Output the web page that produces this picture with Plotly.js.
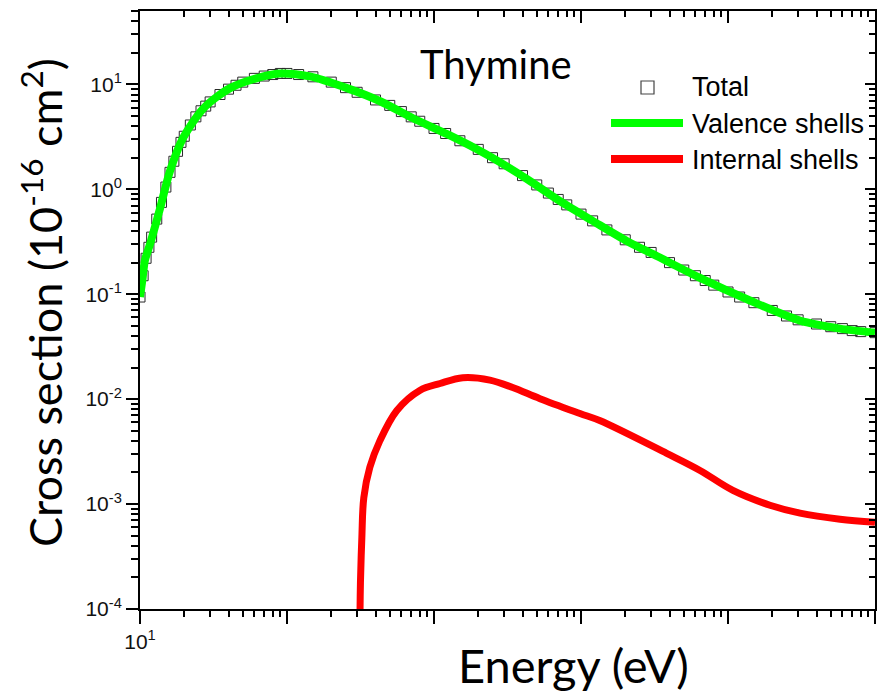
<!DOCTYPE html>
<html>
<head>
<meta charset="utf-8">
<script src="https://cdn.plot.ly/plotly-3.0.1.min.js"></script>
<style>html,body{margin:0;padding:0;background:#fff;}#chart{width:892px;height:695px;}</style>
</head>
<body>
<div id="chart"></div>
<script>
// ---- data ----
const totalEnergy = [10,10.5,11,11.5,12,13,14,15,16,17,18,19,20,22,24,26,28,30,35,40,45,50,60,70,80,90,100,120,150,200,250,300,400,500,600,700,800,1000,1200,1500,2000,2500,3000,4000,5000,6000,7000,8000,10000,12000,15000,20000,25000,30000,40000,50000,60000,70000,80000,100000,120000,150000,200000,250000,300000,400000,500000,600000,700000,800000,1000000];
const totalCS = [0.094,0.15,0.22,0.28,0.35,0.52,0.75,1.05,1.45,1.85,2.3,2.8,3.2,4.1,4.9,5.6,6.2,6.8,8.0,9.0,9.8,10.5,11.4,12.0,12.4,12.7,12.7,12.4,11.8,10.5,9.3,8.4,7.1,6.3,5.5,4.9,4.45,3.8,3.4,2.9,2.4,2.0,1.75,1.35,1.1,0.92,0.8,0.71,0.58,0.50,0.41,0.33,0.28,0.25,0.20,0.17,0.15,0.135,0.122,0.105,0.094,0.083,0.070,0.062,0.057,0.052,0.049,0.047,0.045,0.044,0.043];

const valenceEnergy = [10,10.4,10.8,11.7,13.7,16,19.6,27,41,69,90,143,256,430,720,1230,1960,2520,4300,7200,12000,20600,33000,64500,141000,309000,578000,1000000];
const valenceCS = [0.094,0.14,0.21,0.30,0.66,1.49,3.07,5.9,9.2,11.9,12.7,11.9,9.2,6.9,4.75,3.35,2.41,1.98,1.25,0.77,0.50,0.32,0.23,0.143,0.087,0.056,0.047,0.043];

const internalEnergy = [312,314,316,323,333,366,428,559,800,1100,1570,2400,3430,5260,9840,13400,38300,64500,108000,193000,309000,578000,1000000];
const internalCS = [0.00004,0.0001,0.00018,0.00048,0.00115,0.00224,0.0040,0.0078,0.0121,0.0141,0.0160,0.0152,0.0129,0.0101,0.0073,0.00625,0.00304,0.00209,0.00135,0.000975,0.00082,0.000718,0.00067];

const seriesNames = ["Total","Valence shells","Internal shells"];
const xTickVals = [10,100,1000,10000,100000,1000000];
const xTickText = ["10<sup>1</sup>","","","","",""];
const yTickVals = [0.0001,0.001,0.01,0.1,1,10];
const yTickText = ["10<sup>-4</sup>","10<sup>-3</sup>","10<sup>-2</sup>","10<sup>-1</sup>","10<sup>0</sup>","10<sup>1</sup>"];

// minor tick positions (2..9 in each decade)
function minorTicks(lo, hi){ const a=[]; for(let d=lo; d<hi; d++){ for(let m=2;m<=9;m++){ a.push(m*Math.pow(10,d)); } } return a; }
const xMinor = minorTicks(1,6);
const yMinor = minorTicks(-4,2).filter(v => v <= 50);

const xRange = [1, 6];
const yRange = [-4, Math.log10(50)];

const traces = [
  {x: totalEnergy, y: totalCS, name: seriesNames[0], mode: 'markers', type: 'scatter',
   marker: {symbol: 'square-open', size: 10, color: '#2a2a2a', line: {width: 1, color: '#2a2a2a'}},
   showlegend: false, hoverinfo: 'x+y'},
  {x: valenceEnergy, y: valenceCS, name: seriesNames[1], mode: 'lines', type: 'scatter',
   line: {color: '#00ff00', width: 8, shape: 'spline', smoothing: 0.8}, showlegend: false},
  {x: internalEnergy, y: internalCS, name: seriesNames[2], mode: 'lines', type: 'scatter',
   line: {color: '#ff0000', width: 7, shape: 'spline', smoothing: 1}, showlegend: false},
  // carries the mirrored top/right axes
  {x: valenceEnergy, y: valenceCS, xaxis: 'x2', yaxis: 'y2', mode: 'lines', line: {width: 0, color: 'rgba(0,0,0,0)'},
   showlegend: false, hoverinfo: 'skip'}
];

const tickFont = {family: 'Liberation Sans, Arial, sans-serif', size: 21, color: '#111'};

const layout = {
  width: 892, height: 695,
  margin: {l: 140, r: 17, t: 11, b: 86},
  paper_bgcolor: '#fff', plot_bgcolor: '#fff',
  showlegend: false,
  xaxis: {type: 'log', range: xRange, showline: true, linecolor: '#000', linewidth: 2,
    showgrid: false, zeroline: false, ticks: 'outside', ticklen: 13, tickwidth: 2, tickcolor: '#000',
    tickmode: 'array', tickvals: xTickVals, ticktext: xTickText, tickfont: tickFont,
    minor: {ticks: 'outside', ticklen: 6, tickwidth: 2, tickcolor: '#000', tickmode: 'array', tickvals: xMinor, showgrid: false}},
  yaxis: {type: 'log', range: yRange, showline: true, linecolor: '#000', linewidth: 2,
    showgrid: false, zeroline: false, ticks: 'outside', ticklen: 12, tickwidth: 2, tickcolor: '#000',
    tickmode: 'array', tickvals: yTickVals, ticktext: yTickText, tickfont: tickFont,
    minor: {ticks: 'outside', ticklen: 7, tickwidth: 2, tickcolor: '#000', tickmode: 'array', tickvals: yMinor, showgrid: false}},
  xaxis2: {type: 'log', range: xRange, overlaying: 'x', side: 'top', anchor: 'y', showline: true, linecolor: '#000', linewidth: 2,
    showgrid: false, zeroline: false, ticks: 'inside', ticklen: 12, tickwidth: 2, tickcolor: '#000',
    tickmode: 'array', tickvals: xTickVals, showticklabels: false,
    minor: {ticks: 'inside', ticklen: 6, tickwidth: 2, tickcolor: '#000', tickmode: 'array', tickvals: xMinor, showgrid: false}},
  yaxis2: {type: 'log', range: yRange, overlaying: 'y', side: 'right', anchor: 'x2', showline: true, linecolor: '#000', linewidth: 2,
    showgrid: false, zeroline: false, ticks: 'inside', ticklen: 10, tickwidth: 2, tickcolor: '#000',
    tickmode: 'array', tickvals: yTickVals, showticklabels: false,
    minor: {ticks: 'inside', ticklen: 6, tickwidth: 2, tickcolor: '#000', tickmode: 'array', tickvals: yMinor, showgrid: false}},
  annotations: [
    {text: 'Thymine', xref: 'paper', yref: 'paper', x: (496-140)/735, y: (695-86-64)/598, xanchor: 'center', yanchor: 'middle',
     showarrow: false, font: {family: 'Lato, sans-serif', size: 40, color: '#000'}},
    {text: 'Energy (eV)', xref: 'paper', yref: 'paper', x: (573-140)/735, y: (695-86-665)/598, xanchor: 'center', yanchor: 'middle',
     showarrow: false, font: {family: 'Lato, sans-serif', size: 47, color: '#000'}},
    {text: 'Cross section (10<sup>-16</sup> cm<sup>2</sup>)', xref: 'paper', yref: 'paper', x: (42-140)/735, y: (695-86-303)/598,
     xanchor: 'center', yanchor: 'middle', textangle: -90, showarrow: false, font: {family: 'Lato, sans-serif', size: 45, color: '#000'}},
    {text: seriesNames[0], xref: 'paper', yref: 'paper', x: (690-140)/735, y: (695-86-87)/598, xanchor: 'left', yanchor: 'middle',
     showarrow: false, font: {family: 'Liberation Sans, Arial, sans-serif', size: 27, color: '#000'}},
    {text: seriesNames[1], xref: 'paper', yref: 'paper', x: (690-140)/735, y: (695-86-124)/598, xanchor: 'left', yanchor: 'middle',
     showarrow: false, font: {family: 'Liberation Sans, Arial, sans-serif', size: 27, color: '#000'}},
    {text: seriesNames[2], xref: 'paper', yref: 'paper', x: (690-140)/735, y: (695-86-160)/598, xanchor: 'left', yanchor: 'middle',
     showarrow: false, font: {family: 'Liberation Sans, Arial, sans-serif', size: 27, color: '#000'}}
  ],
  shapes: [
    {type: 'rect', xref: 'paper', yref: 'paper', x0: (641-140)/735, x1: (654-140)/735, y0: (695-86-81)/598, y1: (695-86-94)/598,
     line: {color: '#444', width: 1.2}, fillcolor: 'rgba(0,0,0,0)'},
    {type: 'line', xref: 'paper', yref: 'paper', x0: (611-140)/735, x1: (683-140)/735, y0: (695-86-123)/598, y1: (695-86-123)/598,
     line: {color: '#00ff00', width: 8}},
    {type: 'line', xref: 'paper', yref: 'paper', x0: (611-140)/735, x1: (683-140)/735, y0: (695-86-159)/598, y1: (695-86-159)/598,
     line: {color: '#ff0000', width: 8}}
  ]
};

Plotly.newPlot('chart', traces, layout, {displayModeBar: false, staticPlot: true});
</script>
</body>
</html>
